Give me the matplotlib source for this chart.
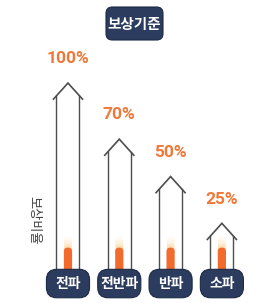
import numpy as np
import matplotlib
matplotlib.use("Agg")
import matplotlib.pyplot as plt
from matplotlib.patches import FancyBboxPatch
from matplotlib.colors import LinearSegmentedColormap

plt.rcParams['font.family'] = ['Noto Sans CJK KR', 'DejaVu Sans']

# data
categories = ["전파", "전반파", "반파", "소파"]
ratios = [100, 70, 50, 25]
title = "보상기준"
ylabel = "보상비율"

NAVY = "#2c3c5e"
ORANGE = "#f07838"
LINE = "#4d4d4d"

fig = plt.figure(figsize=(2.56, 3.03), dpi=100)
ax = fig.add_axes([0, 0, 1, 1])
ax.set_xlim(-1.325, 3.665)
ax.set_ylim(-17.6, 144.4)
ax.axis("off")

# px per data unit, used to keep rounded corners round
aspect = 51.3 / 1.87

roof_h = 8.6
roof_w = 0.283
wall_w = 0.224
wall_top = roof_h * wall_w / roof_w

glow_cmap = LinearSegmentedColormap.from_list(
    "glow", ["#f6a060", "#fbd9a8", "#fff3e0", "#ffffff"])
grad = np.linspace(0, 1, 64).reshape(-1, 1)

for i, (cat, v) in enumerate(zip(categories, ratios)):
    # house outline
    ax.plot([i - roof_w, i, i + roof_w], [v - roof_h, v, v - roof_h],
            color=LINE, lw=1.2, solid_joinstyle="miter", zorder=3)
    for s in (-1, 1):
        ax.plot([i + s * wall_w] * 2, [0, v - wall_top], color=LINE, lw=1.0, zorder=3)

    # flame: soft glow on top, solid body below
    clip = FancyBboxPatch((i - 0.075, 8), 0.15, 10,
                          boxstyle="round,pad=0,rounding_size=0.07",
                          mutation_aspect=aspect, fc="none", ec="none")
    ax.add_patch(clip)
    im = ax.imshow(grad, cmap=glow_cmap, origin="lower", aspect="auto",
                   extent=[i - 0.075, i + 0.075, 8, 18], zorder=2)
    im.set_clip_path(clip)
    ax.add_patch(FancyBboxPatch((i - 0.08, -2), 0.16, 14,
                                boxstyle="round,pad=0,rounding_size=0.075",
                                mutation_aspect=aspect, fc="#f26a2c",
                                ec="none", zorder=2.5))

    # percent label
    ax.text(i, v + 13, f"{v}%", ha="center", va="center", fontsize=12.5,
            fontweight="bold", color=ORANGE, family="Roboto")

    # category badge
    ax.add_patch(FancyBboxPatch((i - 0.42, -14.8), 0.84, 15.2,
                                boxstyle="round,pad=0,rounding_size=0.2",
                                mutation_aspect=aspect, fc=NAVY, ec="#1d2a45",
                                lw=0.8, zorder=4))
    ax.text(i, -7.2, cat, ha="center", va="center", fontsize=10,
            fontweight="bold", color="white", zorder=5)

ax.text(-0.66, 26.5, ylabel, ha="center", va="center", rotation=270,
        fontsize=9.5, color="#444444")

# title badge
fig.patches.append(FancyBboxPatch((106 / 256, 1 - 40 / 303), 57 / 256, 33 / 303,
                                  boxstyle="round,pad=0,rounding_size=0.025",
                                  mutation_aspect=256 / 303, fc=NAVY,
                                  ec="#1d2a45", lw=0.8,
                                  transform=fig.transFigure, figure=fig))
fig.text(134.5 / 256, 1 - 24 / 303, title, ha="center", va="center",
         fontsize=10.5, fontweight="bold", color="white")

fig.savefig("out.png", dpi=100, facecolor="white")
